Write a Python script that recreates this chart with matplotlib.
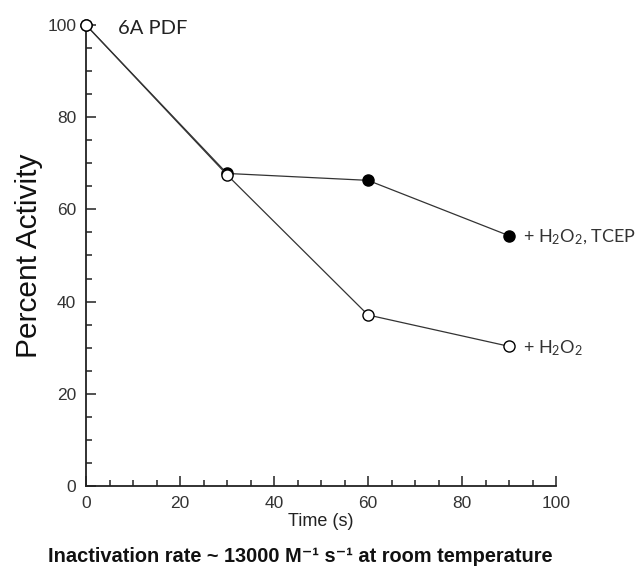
import matplotlib
matplotlib.use("Agg")
import matplotlib.pyplot as plt
from matplotlib.ticker import MultipleLocator

time_s = [0, 30, 60, 90]
h2o2 = [100, 67.5, 37.1, 30.3]
h2o2_tcep = [100, 67.8, 66.3, 54.3]
xticks = [0, 20, 40, 60, 80, 100]
yticks = [0, 20, 40, 60, 80, 100]

plt.rcParams['font.family'] = ['Liberation Sans', 'DejaVu Sans']
plt.rcParams['mathtext.fontset'] = 'custom'
plt.rcParams['mathtext.rm'] = 'Lato'
plt.rcParams['mathtext.it'] = 'Lato:italic'
plt.rcParams['mathtext.bf'] = 'Lato:bold'

fig = plt.figure(figsize=(6.4, 5.72), dpi=100)
ax = fig.add_axes([86/640, 1-486/572, (556-86)/640, (486-25)/572])

ax.plot(time_s, h2o2_tcep, color='#333333', lw=0.9, marker='o', ms=8,
        mfc='black', mec='black', mew=1.0, zorder=3, clip_on=False)
ax.plot(time_s, h2o2, color='#333333', lw=0.9, marker='o', ms=8,
        mfc='white', mec='black', mew=1.0, zorder=4, clip_on=False)

ax.set_xlim(0, 100)
ax.set_ylim(0, 100)
ax.set_xticks(xticks)
ax.set_yticks(yticks)
ax.xaxis.set_minor_locator(MultipleLocator(5))
ax.yaxis.set_minor_locator(MultipleLocator(5))
for s in ['top', 'right']:
    ax.spines[s].set_visible(False)
for s in ['left', 'bottom']:
    ax.spines[s].set_linewidth(1.3)
    ax.spines[s].set_color('#222222')
ax.tick_params(which='major', direction='in', length=7, width=1.1, labelsize=12.5,
               colors='#222222', labelcolor='#333333')
ax.tick_params(which='minor', direction='in', length=4, width=1.1, colors='#222222')
ax.tick_params(axis='y', which='major', pad=7)
ax.tick_params(axis='x', which='major', pad=7)

ax.set_xlabel('Time (s)', fontsize=13, labelpad=2, color='#222222')
ax.set_ylabel('Percent Activity', fontsize=21.5, labelpad=3, color='#111111')

ann_font = ['Lato', 'DejaVu Sans']
ax.text(6.8, 99.2, '6A PDF', fontsize=14.5, family=ann_font, va='center', ha='left', color='#222222')
ax.text(93, h2o2_tcep[-1] - 0.4, r'+ H$_2$O$_2$, TCEP', fontsize=13, family=ann_font,
        va='center', ha='left', color='#333333')
ax.text(93, h2o2[-1] - 0.4, r'+ H$_2$O$_2$', fontsize=13, family=ann_font,
        va='center', ha='left', color='#333333')

fig.text(300.5/640, 1-556/572, 'Inactivation rate ~ 13000 M\u207b\u00b9 s\u207b\u00b9 at room temperature',
         fontsize=14.4, fontweight='bold', ha='center', va='center', color='#111111')

fig.savefig('out.png', dpi=100)
